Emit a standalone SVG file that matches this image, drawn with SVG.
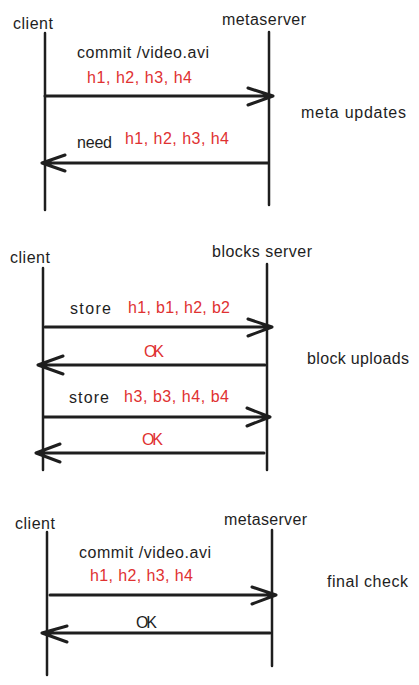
<svg xmlns="http://www.w3.org/2000/svg" width="419" height="685" viewBox="0 0 419 685">
<style>
text{font-family:"Liberation Sans","Noto Sans",sans-serif;font-size:16px;fill:#1e1e1e}
text.r{fill:#e03131}
.life{stroke:#1e1e1e;stroke-width:2.5;fill:none;stroke-linecap:round}
.msg{stroke:#1e1e1e;stroke-width:3;fill:none;stroke-linecap:round;stroke-linejoin:round}
</style>
<rect width="419" height="685" fill="#ffffff"/>
<g id="sec1-client"><text x="13" y="29" textLength="40">client</text><path class="life" d="M45 33 L45 210"/></g>
<g id="sec1-metaserver"><text x="222" y="25" textLength="84">metaserver</text><path class="life" d="M269 32 L269 205"/></g>
<g id="sec1-label"><text x="301" y="118" textLength="105">meta updates</text></g>
<g id="sec2-client"><text x="10" y="263" textLength="40">client</text><path class="life" d="M43 268 L43 470"/></g>
<g id="sec2-blocks"><text x="212" y="257" textLength="100">blocks server</text><path class="life" d="M267 264 L267 470"/></g>
<g id="sec2-label"><text x="307" y="364" textLength="102">block uploads</text></g>
<g id="sec3-client"><text x="15" y="529" textLength="40">client</text><path class="life" d="M47 532 L47 675"/></g>
<g id="sec3-metaserver"><text x="224" y="525" textLength="83">metaserver</text><path class="life" d="M272 530 L272 666"/></g>
<g id="sec3-label"><text x="327" y="587" textLength="81">final check</text></g>
<g id="connectors">
<path class="msg" d="M45 96 L273 96 M248 88 L273 96 L248 105"/>
<path class="msg" d="M268 163 L42 163 M65 155 L42 163 L65 171"/>
<path class="msg" d="M45 327 L272 327 M248 319 L272 327 L248 336"/>
<path class="msg" d="M265 365 L38 365 M63 356 L38 365 L63 374"/>
<path class="msg" d="M44 417 L270 417 M247 408 L270 417 L247 426"/>
<path class="msg" d="M264 453 L36 453 M60 444 L36 453 L60 462"/>
<path class="msg" d="M50 595 L276 595 M252 587 L276 595 L252 604"/>
<path class="msg" d="M270 633 L42 633 M67 626 L42 633 L67 642"/>
</g>
<g id="labels">
<text x="77" y="58" textLength="132">commit /video.avi</text>
<text class="r" x="87" y="83" textLength="105">h1, h2, h3, h4</text>
<text x="77" y="148" textLength="35">need</text>
<text class="r" x="125" y="144" textLength="104">h1, h2, h3, h4</text>
<text x="70" y="314" textLength="41">store</text>
<text class="r" x="128" y="313" textLength="102">h1, b1, h2, b2</text>
<text class="r" x="144" y="357" textLength="20">OK</text>
<text x="69" y="403" textLength="40">store</text>
<text class="r" x="124" y="402" textLength="105">h3, b3, h4, b4</text>
<text class="r" x="142" y="445" textLength="21">OK</text>
<text x="79" y="558" textLength="132">commit /video.avi</text>
<text class="r" x="90" y="581" textLength="103">h1, h2, h3, h4</text>
<text x="136" y="628" textLength="21">OK</text>
</g>
</svg>
